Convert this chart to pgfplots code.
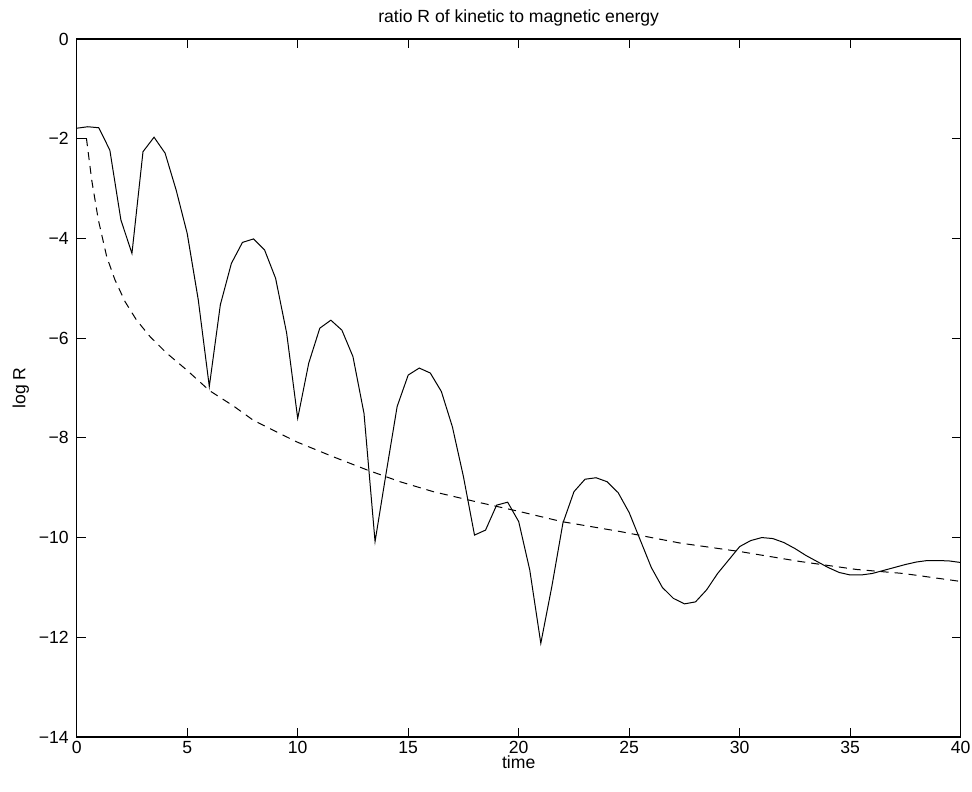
\documentclass[border=0pt]{standalone}
\usepackage{fontspec}
\setmainfont{Liberation Sans}
\usepackage{pgfplots}
\pgfplotsset{compat=1.18}

\pgfplotstableread{
t R
0 -1.79
0.5 -1.76
1.0 -1.78
1.5 -2.23
2.0 -3.63
2.5 -4.30
3.0 -2.26
3.5 -1.97
4.0 -2.29
4.5 -3.03
5.0 -3.90
5.5 -5.23
6.0 -6.97
6.5 -5.33
7.0 -4.50
7.5 -4.08
8.0 -4.01
8.5 -4.23
9.0 -4.80
9.5 -5.90
10.0 -7.61
10.5 -6.50
11.0 -5.80
11.5 -5.64
12.0 -5.84
12.5 -6.37
13.0 -7.51
13.5 -10.08
14.0 -8.71
14.5 -7.37
15.0 -6.74
15.5 -6.60
16.0 -6.70
16.5 -7.07
17.0 -7.78
17.5 -8.78
18.0 -9.95
18.5 -9.85
19.0 -9.35
19.5 -9.29
20.0 -9.68
20.5 -10.65
21.0 -12.12
21.5 -10.98
22.0 -9.71
22.5 -9.08
23.0 -8.83
23.5 -8.80
24.0 -8.88
24.5 -9.10
25.0 -9.50
25.5 -10.05
26.0 -10.60
26.5 -11.00
27.0 -11.22
27.5 -11.33
28.0 -11.29
28.5 -11.05
29.0 -10.72
29.5 -10.45
30.0 -10.18
30.5 -10.06
31.0 -10.00
31.5 -10.02
32.0 -10.10
32.5 -10.22
33.0 -10.36
33.5 -10.48
34.0 -10.60
34.5 -10.70
35.0 -10.75
35.5 -10.75
36.0 -10.72
36.5 -10.66
37.0 -10.60
37.5 -10.54
38.0 -10.49
38.5 -10.46
39.0 -10.46
39.5 -10.47
40.0 -10.50
}\kinetic

\pgfplotstableread{
t R
0.44 -1.99
0.68 -2.83
0.98 -3.63
1.36 -4.37
1.73 -4.83
2.19 -5.27
2.71 -5.64
3.32 -5.97
4.07 -6.30
4.98 -6.64
6.0 -7.05
7.09 -7.36
8.0 -7.65
9.95 -8.08
11.61 -8.38
13.12 -8.64
14.63 -8.88
16.14 -9.08
18.25 -9.30
20.06 -9.48
21.95 -9.68
24.6 -9.88
27.3 -10.11
30.0 -10.28
32.73 -10.48
35.29 -10.64
37.4 -10.72
40.0 -10.88
}\fit

\begin{document}
\begin{tikzpicture}
\begin{axis}[
  scale only axis,
  width=442pt, height=349pt,
  xmin=0, xmax=40, ymin=-14, ymax=0,
  xtick={0,5,...,40},
  ytick={-14,-12,...,0},
  xticklabels={0,5,10,15,20,25,30,35,40},
  yticklabels={−14,−12,−10,−8,−6,−4,−2,0},
  tick align=inside,
  major tick length=4.5pt,
  tick style={black, line width=0.4pt},
  axis line style={line width=0.6pt},
  tick label style={font=\fontsize{8.8pt}{10pt}\selectfont},
  xticklabel style={yshift=1.5pt},
  yticklabel style={xshift=-0.5pt},
  label style={font=\fontsize{8.8pt}{10pt}\selectfont},
  title style={font=\fontsize{8.8pt}{10pt}\selectfont, yshift=-3pt},
  title={ratio R of kinetic to magnetic energy},
  xlabel={time},
  ylabel={log R},
  xlabel style={yshift=6pt},
  ylabel style={yshift=-2pt},
]
\addplot[black, line width=0.5pt] table[x=t, y=R] {\kinetic};
\addplot[black, line width=0.5pt, dash pattern=on 4pt off 3pt] table[x=t, y=R] {\fit};
\end{axis}
\pgfresetboundingbox
\useasboundingbox (-38.35pt,-27pt) rectangle (447.65pt,368.5pt);
\end{tikzpicture}
\end{document}
